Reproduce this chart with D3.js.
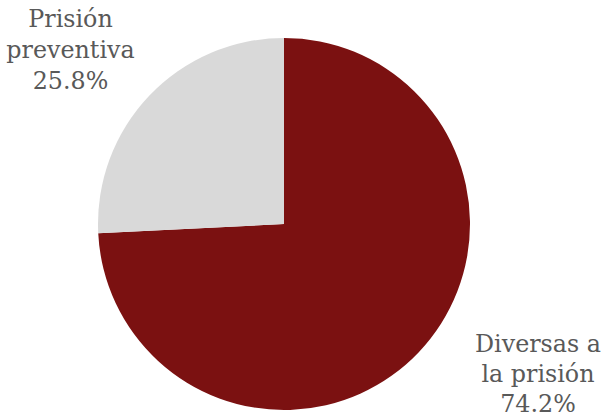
<!DOCTYPE html>
<html><head><meta charset="utf-8">
<script src="https://cdn.jsdelivr.net/npm/d3@7"></script>
<style>body{margin:0;background:#fff}svg{display:block}</style>
</head><body>
<svg id="c" width="608" height="418"></svg>
<script>
const categories = ["Diversas a la prisión", "Prisión preventiva"];
const values = [74.2, 25.8];
const labelLines = [["Diversas a", "la prisión", "74.2%"], ["Prisión", "preventiva", "25.8%"]];
const colors = ["#7B1111", "#D9D9D9"];

const svg = d3.select("#c");
const cx = 284, cy = 224, r = 186;
const pie = d3.pie().sort(null).value(d => d)(values);
const arc = d3.arc().innerRadius(0).outerRadius(r);
const g = svg.append("g").attr("transform", `translate(${cx},${cy})`);
g.selectAll("path").data(pie).enter().append("path")
  .attr("d", arc).attr("fill", (d, i) => colors[i]);

const labelPos = [[538, 352, 30], [70.5, 27, 31]];
labelLines.forEach((lines, i) => {
  const t = svg.append("text").attr("text-anchor", "middle")
    .attr("font-family", "DejaVu Serif").attr("font-size", 23.8).attr("fill", "#595959");
  lines.forEach((ln, j) => {
    t.append("tspan").attr("x", labelPos[i][0]).attr("y", labelPos[i][1] + j * labelPos[i][2]).text(ln);
  });
});
</script>
</body></html>
